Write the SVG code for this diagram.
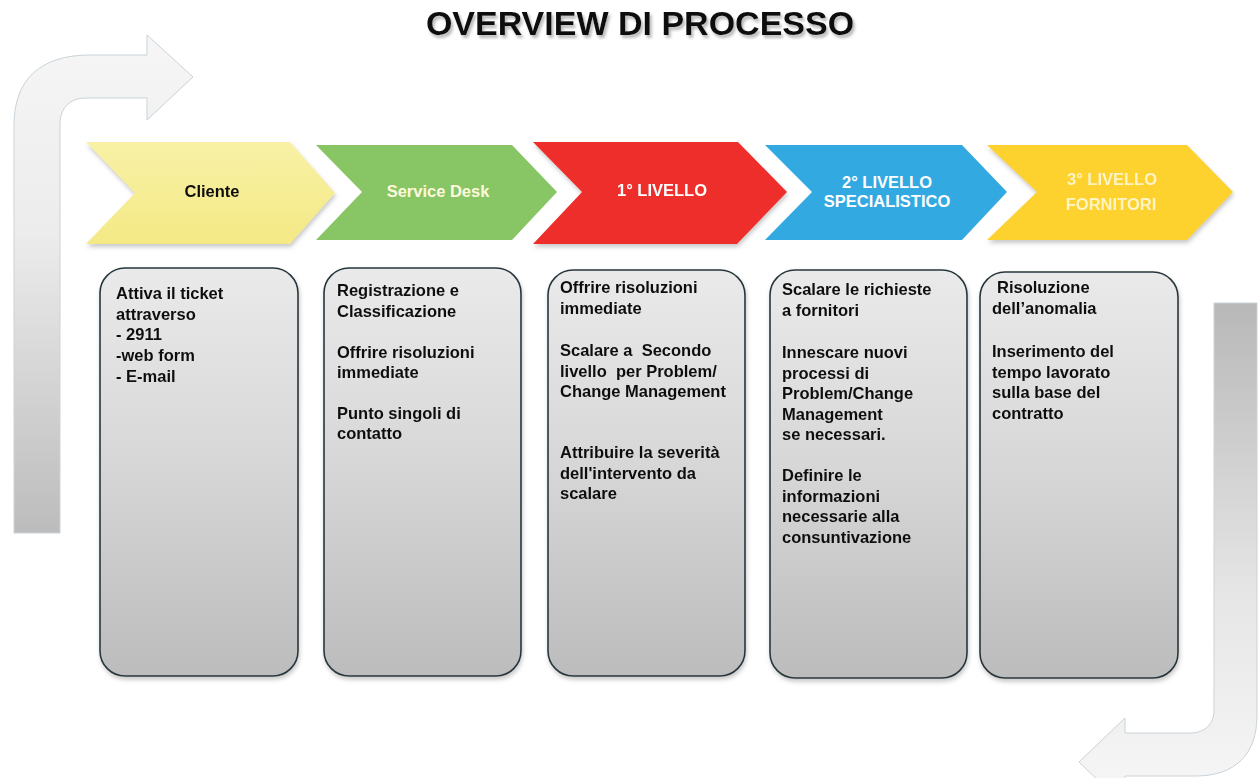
<svg xmlns="http://www.w3.org/2000/svg" width="1260" height="778" viewBox="0 0 1260 778">
<defs>
<style>
.title{font-family:"Liberation Sans",Arial,sans-serif;font-weight:bold;font-size:34px;fill:#111;}
.lbl{font-family:"Liberation Sans",Arial,sans-serif;font-weight:bold;font-size:16.5px;text-anchor:middle;}
.txt{font-family:"Liberation Sans",Arial,sans-serif;font-weight:bold;font-size:16.5px;fill:#111;}
.box{fill:url(#boxg);stroke:#26363c;stroke-width:1.6;}
.deco{stroke:#c9d3d8;stroke-width:1;}
</style>
<linearGradient id="boxg" x1="0" y1="0" x2="0" y2="1">
<stop offset="0" stop-color="#ebeaea"/>
<stop offset="0.5" stop-color="#d6d6d6"/>
<stop offset="1" stop-color="#bcbcbc"/>
</linearGradient>
<linearGradient id="arrL" x1="0" y1="35" x2="0" y2="533" gradientUnits="userSpaceOnUse">
<stop offset="0" stop-color="#f6f6f6"/>
<stop offset="0.4" stop-color="#ececec"/>
<stop offset="1" stop-color="#bcbcbc"/>
</linearGradient>
<linearGradient id="arrR" x1="0" y1="303" x2="0" y2="790" gradientUnits="userSpaceOnUse">
<stop offset="0" stop-color="#b8b8b8"/>
<stop offset="0.6" stop-color="#e6e6e6"/>
<stop offset="1" stop-color="#f6f6f6"/>
</linearGradient>
<linearGradient id="yel" x1="0" y1="0" x2="0" y2="1">
<stop offset="0" stop-color="#f8f1a6"/>
<stop offset="1" stop-color="#f4e985"/>
</linearGradient>
<filter id="sh" x="-10%" y="-10%" width="120%" height="130%">
<feDropShadow dx="1" dy="3" stdDeviation="2" flood-color="#888" flood-opacity="0.45"/>
</filter>
<filter id="tsh" x="-5%" y="-20%" width="110%" height="160%">
<feDropShadow dx="2" dy="3" stdDeviation="1.5" flood-color="#999" flood-opacity="0.7"/>
</filter>
</defs>
<rect width="1260" height="778" fill="#ffffff"/>

<g id="connectors">
<path class="deco" fill="url(#arrL)" d="M14,533 L14,125 C14,80 40,55 90,55 L147,55 L147,35 L193,77 L147,120 L147,98 L86,98 C70,98 60,108 60,124 L60,533 Z"/>
<path class="deco" fill="url(#arrR)" d="M1214,303 L1257,303 L1257,715 C1257,755 1235,776 1195,776 L1125,776 L1125,806 L1079,762 L1125,718 L1125,733 L1190,733 C1205,733 1214,724 1214,710 Z"/>
</g>

<text id="title" class="title" x="640" y="35" text-anchor="middle" filter="url(#tsh)">OVERVIEW DI PROCESSO</text>

<g id="chevron-cliente" filter="url(#sh)">
<path d="M86,142 L290,142 L335,193 L290,244 L86,244 L135,193 Z" fill="url(#yel)"/>
<text class="lbl" x="212" y="197" fill="#111">Cliente</text>
</g>
<g id="chevron-servicedesk">
<path d="M316,145 L512,145 L557,192 L512,240 L316,240 L362,192 Z" fill="#88c565"/>
<text class="lbl" x="438" y="197" fill="#fff9dc">Service Desk</text>
</g>
<g id="chevron-livello1" filter="url(#sh)">
<path d="M533,142 L738,142 L787,192 L737,244 L533,244 L582,192 Z" fill="#ee2f2b"/>
<text class="lbl" x="662" y="196" fill="#ffffff">1° LIVELLO</text>
</g>
<g id="chevron-livello2">
<path d="M765,145 L962,145 L1007,192 L962,240 L765,240 L812,192 Z" fill="#33a9e1"/>
<text class="lbl" x="887" y="188" fill="#ffffff">2° LIVELLO</text>
<text class="lbl" x="887" y="207" fill="#ffffff">SPECIALISTICO</text>
</g>
<g id="chevron-livello3" filter="url(#sh)">
<path d="M987,145 L1187,145 L1233,192 L1187,240 L987,240 L1037,192 Z" fill="#fdd12f"/>
<text class="lbl" x="1112" y="185" fill="#fff4c4">3° LIVELLO</text>
<text class="lbl" x="1111" y="210" fill="#fff4c4">FORNITORI</text>
</g>

<g id="box-cliente" filter="url(#sh)">
<rect class="box" x="100" y="268" width="198" height="408" rx="25" ry="25"/>
<text class="txt"><tspan x="116" y="299">Attiva il ticket</tspan><tspan x="116" y="319.7">attraverso</tspan><tspan x="116" y="340.4">- 2911</tspan><tspan x="116" y="361.1">-web form</tspan><tspan x="116" y="381.8">- E-mail</tspan></text>
</g>
<g id="box-servicedesk" filter="url(#sh)">
<rect class="box" x="324" y="268" width="197" height="408" rx="25" ry="25"/>
<text class="txt"><tspan x="337" y="296">Registrazione e</tspan><tspan x="337" y="316.5">Classificazione</tspan><tspan x="337" y="357.5">Offrire risoluzioni</tspan><tspan x="337" y="378">immediate</tspan><tspan x="337" y="418.5">Punto singoli di</tspan><tspan x="337" y="439">contatto</tspan></text>
</g>
<g id="box-livello1" filter="url(#sh)">
<rect class="box" x="548" y="270" width="197" height="406" rx="25" ry="25"/>
<text class="txt" xml:space="preserve"><tspan x="560" y="293">Offrire risoluzioni</tspan><tspan x="560" y="314">immediate</tspan><tspan x="560" y="356">Scalare a  Secondo</tspan><tspan x="560" y="376.5">livello  per Problem/</tspan><tspan x="560" y="397">Change Management</tspan><tspan x="560" y="458">Attribuire la severità</tspan><tspan x="560" y="478.5">dell'intervento da</tspan><tspan x="560" y="499">scalare</tspan></text>
</g>
<g id="box-livello2" filter="url(#sh)">
<rect class="box" x="770" y="270" width="197" height="408" rx="25" ry="25"/>
<text class="txt"><tspan x="782" y="295">Scalare le richieste</tspan><tspan x="782" y="316">a fornitori</tspan><tspan x="782" y="358">Innescare nuovi</tspan><tspan x="782" y="378.5">processi di</tspan><tspan x="782" y="399">Problem/Change</tspan><tspan x="782" y="419.5">Management</tspan><tspan x="782" y="440">se necessari.</tspan><tspan x="782" y="481">Definire le</tspan><tspan x="782" y="501.5">informazioni</tspan><tspan x="782" y="522">necessarie alla</tspan><tspan x="782" y="542.5">consuntivazione</tspan></text>
</g>
<g id="box-livello3" filter="url(#sh)">
<rect class="box" x="980" y="272" width="198" height="406" rx="25" ry="25"/>
<text class="txt"><tspan x="997" y="293">Risoluzione</tspan><tspan x="992" y="314">dell’anomalia</tspan><tspan x="992" y="357">Inserimento del</tspan><tspan x="992" y="377.5">tempo lavorato</tspan><tspan x="992" y="398">sulla base del</tspan><tspan x="992" y="418.5">contratto</tspan></text>
</g>
</svg>
